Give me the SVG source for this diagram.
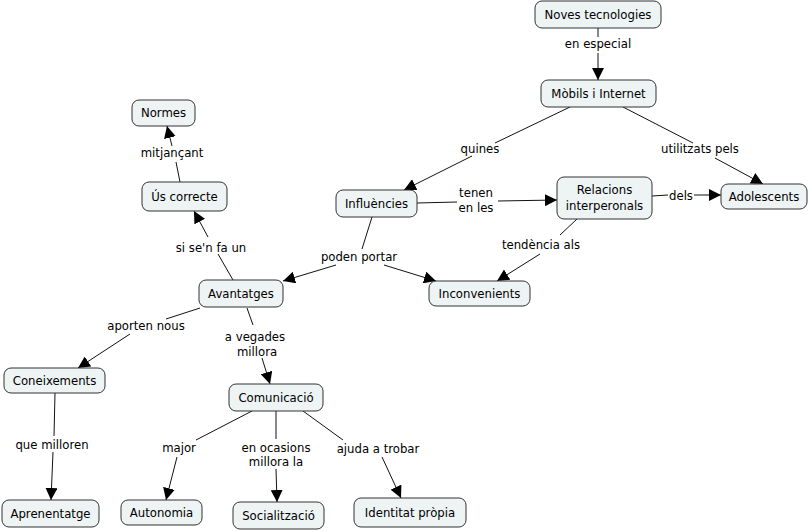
<svg xmlns="http://www.w3.org/2000/svg" width="811" height="531" viewBox="0 0 811 531">
<style>
.n rect{fill:#eef3f4;stroke:#333;stroke-width:1;}
text{font-family:"DejaVu Sans",Verdana,sans-serif;font-size:11.7px;fill:#000;text-anchor:middle;}
.c line{stroke:#111;stroke-width:1;}
.a{marker-end:url(#ah);}
</style>
<defs>
<marker id="ah" markerUnits="userSpaceOnUse" markerWidth="12" markerHeight="12" viewBox="0 0 12 12" refX="12" refY="6" orient="auto">
<path d="M0,0 L12,6 L0,12 z" fill="#000"/>
</marker>
</defs>
<rect width="811" height="531" fill="#fff"/>
<g id="connectors" class="c">
<line x1="598" y1="28" x2="598" y2="38"/>
<line class="a" x1="598" y1="53" x2="598" y2="80"/>
<line x1="570" y1="107" x2="495" y2="143"/>
<line class="a" x1="472" y1="156" x2="404" y2="190"/>
<line x1="623" y1="107" x2="693" y2="143"/>
<line class="a" x1="715" y1="158" x2="763" y2="184"/>
<line x1="417" y1="203" x2="457" y2="202"/>
<line class="a" x1="498" y1="201" x2="557" y2="200"/>
<line x1="652" y1="196" x2="668" y2="195"/>
<line class="a" x1="694" y1="195" x2="721" y2="195"/>
<line x1="577" y1="219" x2="560" y2="235"/>
<line class="a" x1="540" y1="254" x2="497" y2="281"/>
<line x1="372" y1="217" x2="362" y2="249"/>
<line class="a" x1="336" y1="265" x2="283" y2="281"/>
<line class="a" x1="384" y1="265" x2="436" y2="281"/>
<line x1="233" y1="280" x2="218" y2="254"/>
<line class="a" x1="208" y1="237" x2="194" y2="211"/>
<line x1="180" y1="182" x2="176" y2="162"/>
<line class="a" x1="172" y1="146" x2="167" y2="126"/>
<line x1="200" y1="308" x2="166" y2="319"/>
<line class="a" x1="130" y1="334" x2="78" y2="368"/>
<line x1="247" y1="308" x2="253" y2="325"/>
<line class="a" x1="262" y1="358" x2="270" y2="384"/>
<line x1="55" y1="393" x2="54" y2="436"/>
<line class="a" x1="53" y1="452" x2="51" y2="500"/>
<line x1="252" y1="411" x2="196" y2="440"/>
<line class="a" x1="177" y1="457" x2="166" y2="500"/>
<line x1="276" y1="411" x2="276" y2="439"/>
<line class="a" x1="276" y1="469" x2="277" y2="502"/>
<line x1="303" y1="411" x2="343" y2="440"/>
<line class="a" x1="382" y1="457" x2="401" y2="498"/>
</g>
<g id="labels">
<rect x="560" y="37" width="76" height="15" fill="#fff"/>
<text x="598" y="48">en especial</text>
<text x="480" y="153">quines</text>
<text x="700" y="153">utilitzats pels</text>
<text x="476" y="197">tenen</text>
<text x="476" y="212">en les</text>
<text x="681" y="200">dels</text>
<text x="541" y="249">tendència als</text>
<text x="359" y="261">poden portar</text>
<text x="211" y="252">si se'n fa un</text>
<text x="172" y="157">mitjançant</text>
<text x="146" y="330">aporten nous</text>
<text x="255" y="341">a vegades</text>
<text x="257" y="356">millora</text>
<text x="52" y="449">que milloren</text>
<text x="179" y="452">major</text>
<text x="276" y="452">en ocasions</text>
<text x="276" y="466">millora la</text>
<text x="378" y="453">ajuda a trobar</text>
</g>
<g id="noves" class="n"><rect x="535" y="1" width="126" height="27" rx="7"/><text x="598" y="19">Noves tecnologies</text></g>
<g id="mobils" class="n"><rect x="541" y="80" width="115" height="27" rx="7"/><text x="598.5" y="98">Mòbils i Internet</text></g>
<g id="influencies" class="n"><rect x="336" y="190" width="81" height="27" rx="7"/><text x="376.5" y="208">Influències</text></g>
<g id="relacions" class="n"><rect x="557" y="177" width="95" height="42" rx="7"/><text x="604.5" y="194">Relacions</text><text x="604.5" y="210">interperonals</text></g>
<g id="adolescents" class="n"><rect x="721" y="184" width="86" height="25" rx="7"/><text x="764" y="201">Adolescents</text></g>
<g id="normes" class="n"><rect x="132" y="100" width="63" height="26" rx="7"/><text x="163.5" y="117">Normes</text></g>
<g id="us" class="n"><rect x="142" y="182" width="85" height="29" rx="7"/><text x="184.5" y="201">Ús correcte</text></g>
<g id="avantatges" class="n"><rect x="199" y="280" width="84" height="27" rx="7"/><text x="241" y="298">Avantatges</text></g>
<g id="inconvenients" class="n"><rect x="429" y="281" width="101" height="25" rx="7"/><text x="479.5" y="298">Inconvenients</text></g>
<g id="coneixements" class="n"><rect x="4" y="368" width="101" height="25" rx="7"/><text x="54.5" y="385">Coneixements</text></g>
<g id="comunicacio" class="n"><rect x="229" y="384" width="94" height="27" rx="7"/><text x="276" y="402">Comunicació</text></g>
<g id="aprenentatge" class="n"><rect x="2" y="500" width="97" height="27" rx="7"/><text x="50.5" y="518">Aprenentatge</text></g>
<g id="autonomia" class="n"><rect x="121" y="500" width="81" height="25" rx="7"/><text x="161.5" y="517">Autonomia</text></g>
<g id="socialitzacio" class="n"><rect x="233" y="502" width="91" height="27" rx="7"/><text x="278.5" y="520">Socialització</text></g>
<g id="identitat" class="n"><rect x="354" y="498" width="112" height="29" rx="7"/><text x="410" y="517">Identitat pròpia</text></g>
</svg>
